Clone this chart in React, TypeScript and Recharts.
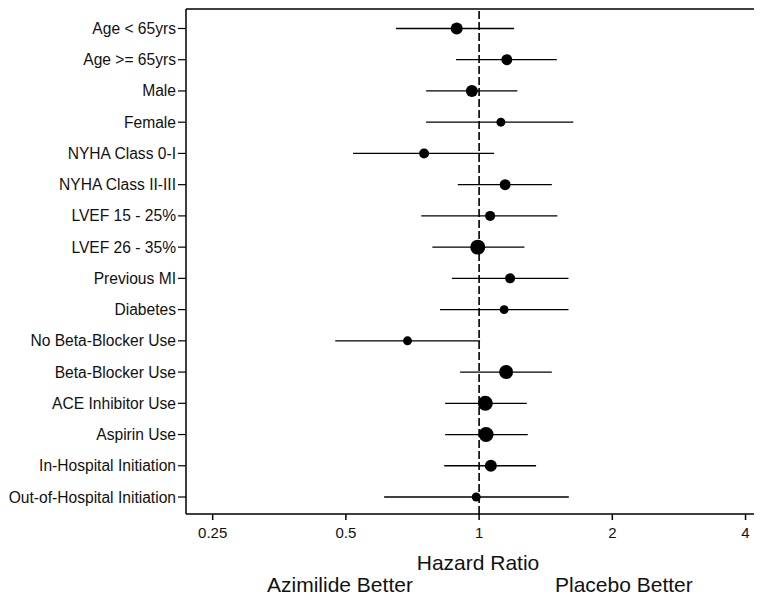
import React from 'react'
import {
  ScatterChart,
  Scatter,
  XAxis,
  YAxis,
  ZAxis,
  ReferenceLine,
} from 'recharts'

const subgroups = [
  'Age < 65yrs',
  'Age >= 65yrs',
  'Male',
  'Female',
  'NYHA Class 0-I',
  'NYHA Class II-III',
  'LVEF 15 - 25%',
  'LVEF 26 - 35%',
  'Previous MI',
  'Diabetes',
  'No Beta-Blocker Use',
  'Beta-Blocker Use',
  'ACE Inhibitor Use',
  'Aspirin Use',
  'In-Hospital Initiation',
  'Out-of-Hospital Initiation',
]

const hazardRatio = [0.89, 1.155, 0.963, 1.12, 0.751, 1.145, 1.059, 0.993, 1.175, 1.139, 0.689, 1.151, 1.033, 1.037, 1.063, 0.985]
const ciLower = [0.649, 0.887, 0.759, 0.759, 0.519, 0.895, 0.74, 0.784, 0.868, 0.816, 0.473, 0.906, 0.838, 0.838, 0.834, 0.61]
const ciUpper = [1.2, 1.498, 1.22, 1.633, 1.081, 1.46, 1.503, 1.266, 1.592, 1.592, 1.005, 1.46, 1.282, 1.288, 1.345, 1.595]
// relative weight of each subgroup (drives marker area)
const weights = [36, 30, 36, 20, 25, 30, 25, 56, 25, 20, 20, 49, 56, 56, 36, 20]

const xTicks = [0.25, 0.5, 1, 2, 4]

const FONT = '"Liberation Sans", Arial, sans-serif'

const points = subgroups.map((name, i) => ({
  name,
  row: i + 1,
  hr: hazardRatio[i],
  w: weights[i],
}))

const yDomain: [number, number] = [0.376, 16.544]

export default function App() {
  return (
    <div style={{ position: 'relative', width: 746, height: 584, fontFamily: FONT }}>
      <ScatterChart width={746} height={584} margin={{ top: 1, right: 0, bottom: 0, left: 0 }} accessibilityLayer={false}>
        <XAxis
          type="number"
          dataKey="hr"
          scale="log"
          domain={[0.2176, 4.18]}
          allowDataOverflow
          ticks={xTicks}
          tickFormatter={(v) => String(v)}
          height={78}
          tickSize={6}
          tickMargin={7}
          axisLine={{ stroke: '#000', strokeWidth: 1.5 }}
          tickLine={{ stroke: '#000', strokeWidth: 1.5 }}
          tick={{ fill: '#111', fontSize: 15, fontFamily: FONT }}
          label={{
            value: 'Hazard Ratio',
            position: 'insideBottom',
            offset: 22,
            dx: 8,
            style: { fill: '#111', fontSize: 21, fontFamily: FONT },
          }}
        />
        <YAxis
          type="number"
          dataKey="row"
          reversed
          domain={yDomain}
          allowDataOverflow
          ticks={subgroups.map((_, i) => i + 1)}
          interval={0}
          tickFormatter={(v) => subgroups[v - 1] ?? ''}
          width={178}
          tickSize={8}
          tickMargin={2}
          axisLine={{ stroke: '#000', strokeWidth: 1.5 }}
          tickLine={{ stroke: '#000', strokeWidth: 1.2 }}
          tick={{ fill: '#111', fontSize: 15.6, fontFamily: FONT }}
        />
        <ZAxis type="number" dataKey="w" domain={[0, 60]} range={[0, 60 * Math.PI]} />
        <ReferenceLine y={yDomain[0]} stroke="#000" strokeWidth={1.5} />
        <ReferenceLine x={1} stroke="#000" strokeWidth={1.6} strokeDasharray="8 3" />
        {subgroups.map((name, i) => (
          <ReferenceLine
            key={name}
            segment={[
              { x: ciLower[i], y: i + 1 },
              { x: ciUpper[i], y: i + 1 },
            ]}
            stroke="#000"
            strokeWidth={1.3}
          />
        ))}
        <Scatter data={points} fill="#000" isAnimationActive={false} />
      </ScatterChart>
      <div style={{ position: 'absolute', left: 259, top: 566, fontSize: 21, lineHeight: '21px', color: '#111', whiteSpace: 'nowrap' }}>
        Azimilide Better
      </div>
      <div style={{ position: 'absolute', left: 547, top: 566, fontSize: 21, lineHeight: '21px', color: '#111', whiteSpace: 'nowrap' }}>
        Placebo Better
      </div>
    </div>
  )
}
